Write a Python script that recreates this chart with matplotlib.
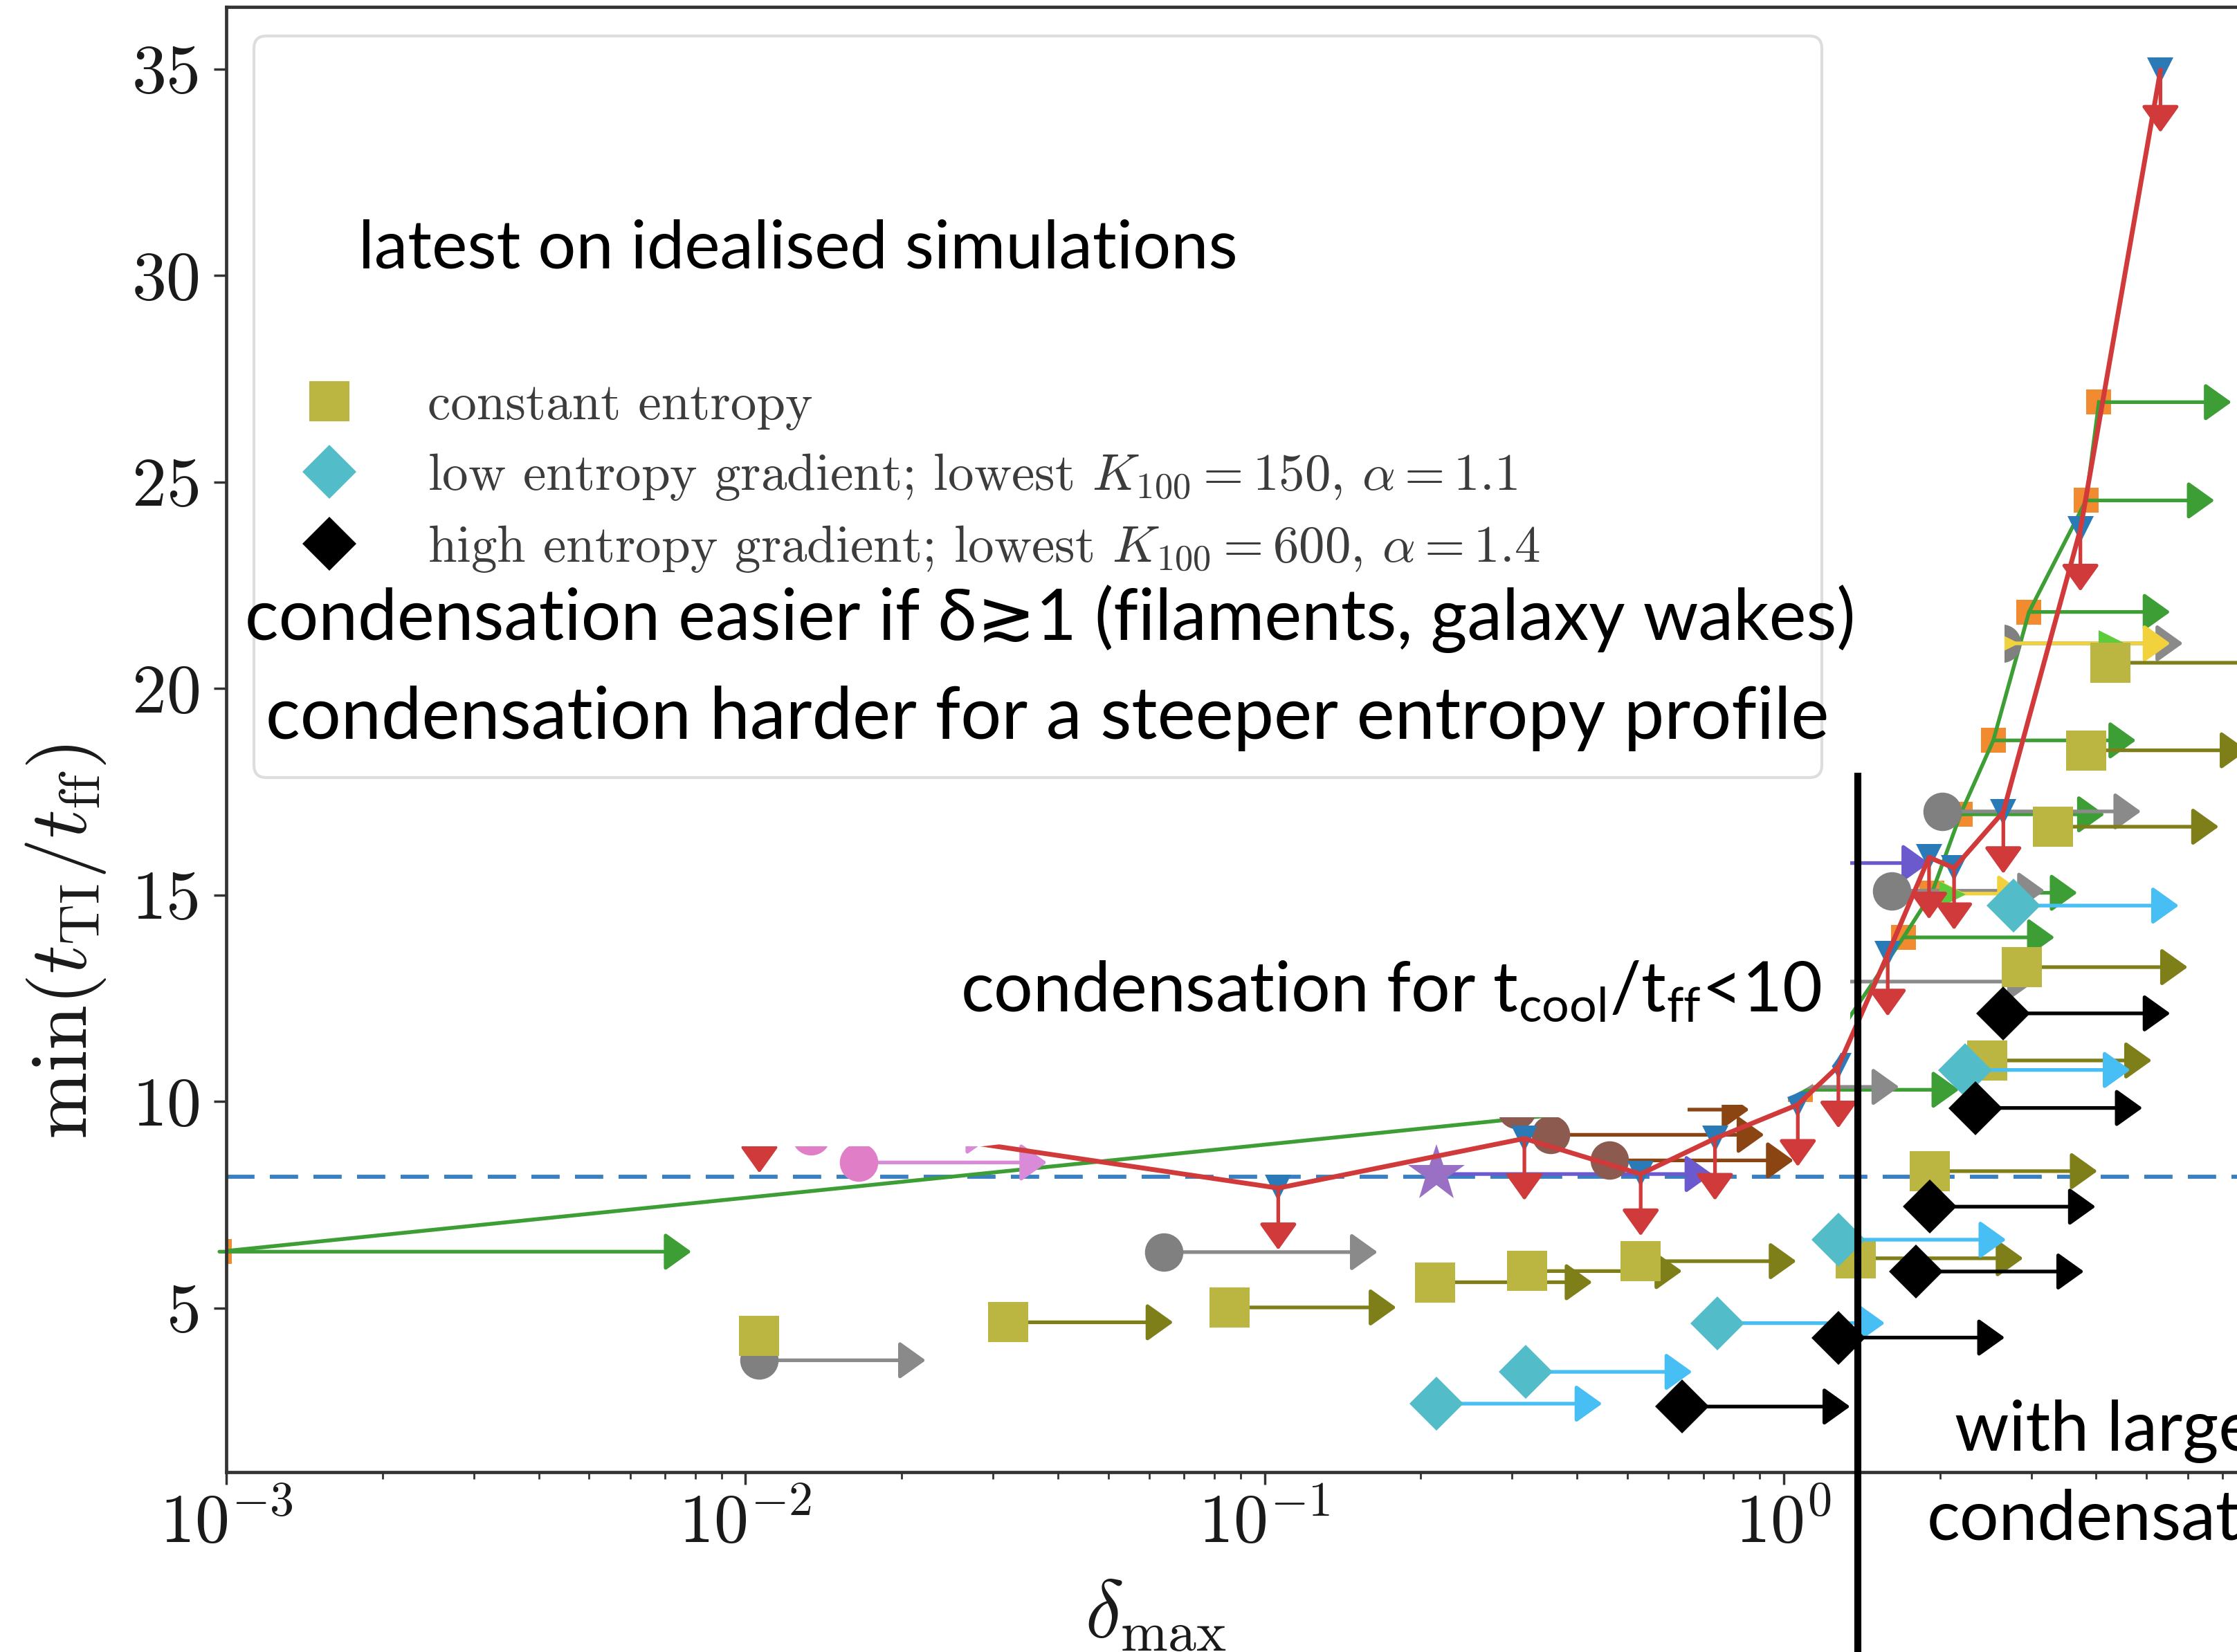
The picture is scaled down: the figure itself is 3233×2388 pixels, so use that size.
import numpy as np
import matplotlib
matplotlib.use("Agg")
import matplotlib.pyplot as plt
from matplotlib.lines import Line2D
from matplotlib.patches import Polygon, FancyBboxPatch
from matplotlib.ticker import FixedLocator, FuncFormatter, LogLocator, NullFormatter
from matplotlib.transforms import Affine2D

plt.rcParams['font.family'] = 'cmr10'
plt.rcParams['mathtext.fontset'] = 'cm'
plt.rcParams['axes.unicode_minus'] = False
plt.rcParams['mathtext.rm'] = 'Lato'

W, H, DPI = 3233, 2388, 100

# orange squares joined by the green line (lower limits on delta)
ang_x = [9.7e-4, 1.078, 1.701, 1.931, 2.191, 2.535, 2.970, 3.825, 4.05]
ang_y = [6.36, 10.28, 13.97, 15.05, 16.95, 18.74, 21.85, 24.55, 26.93]
ang_xend = [0.00787, 2.178, 3.327, 3.68, 4.153, 4.773, 5.557, 6.76, 7.29]

# blue triangles joined by the red line (upper limits on min t_TI/t_ff)
tri_x = [0.01064, 0.1063, 0.3167, 0.5305, 0.7375, 1.065, 1.275, 1.587, 1.906, 2.13, 2.65, 3.73, 5.32]
tri_y = [9.76, 7.90, 9.10, 8.24, 9.10, 9.92, 10.85, 13.56, 15.91, 15.65, 17.01, 23.85, 34.96]
tri_drop = 1.5

gray_x = [0.01064, 0.0640, 0.5305, 0.7285, 1.617, 2.018, 2.633]
gray_y = [3.73, 6.35, 10.35, 12.90, 15.10, 17.02, 21.09]
gray_xend = [0.02225, 0.1651, 1.669, 3.046, 3.184, 4.88, 5.88]

brown_x = [0.306, 0.356, 0.4615]
brown_y = [9.80, 9.19, 8.57]
brown_xend = [0.8586, 0.9175, 1.045]

pink_x = [0.01339, 0.01652]
pink_y = [9.17, 8.52]
pink_xend = [0.030, 0.0381]

star_x = [0.2146, 1.05]
star_y = [8.24, 15.77]
star_xend = [0.7284, 1.906]

yel_x = [2.118, 2.683]
yel_y = [15.03, 21.09]
yel_xend = [2.913, 5.557]

lime_x = [2.118, 4.29]
lime_y = [15.01, 21.09]

const_x = [0.01064, 0.03207, 0.0857, 0.2133, 0.3207, 0.5305, 1.377, 1.913, 2.464, 2.877, 3.307, 3.824, 4.26]
const_y = [4.33, 4.65, 5.01, 5.62, 5.89, 6.13, 6.20, 8.31, 10.99, 13.25, 16.65, 18.50, 20.62]
const_xend = [0.01156, 0.0667, 0.1794, 0.4279, 0.6374, 1.058, 2.895, 4.022, 5.119, 6.004, 6.89, 7.82, 8.6]

lowk_x = [0.2143, 0.3184, 0.745, 1.275, 2.234, 2.77]
lowk_y = [2.68, 3.45, 4.63, 6.65, 10.76, 14.74]
lowk_xend = [0.4472, 0.6665, 1.567, 2.683, 4.655, 5.77]

highk_x = [0.637, 1.275, 1.80, 1.913, 2.343, 2.65]
highk_y = [2.61, 4.28, 5.88, 7.45, 9.84, 12.13]
highk_xend = [1.343, 2.667, 3.789, 3.99, 4.912, 5.557]

threshold = 8.17

legend_labels = [
    'constant entropy',
    r'low entropy gradient; lowest $K_{100} = 150$, $\alpha = 1.1$',
    r'high entropy gradient; lowest $K_{100} = 600$, $\alpha = 1.4$',
]

OLIVE = '#bbb641'
CYAN = '#52bcc8'

fig = plt.figure(figsize=(W / DPI, H / DPI), dpi=DPI)
ax = fig.add_axes([327 / W, 1 - 2128 / H, (3328 - 327) / W, (2128 - 10) / H])
ax.set_xscale('log')
ax.set_xlim(1e-3, 10)
ax.set_ylim(1.022, 36.5)

ARROW = '-|>,head_length=0.42,head_width=0.3'


def arrows(xs, ys, xe, ye, color, z):
    for x0, y0, x1, y1 in zip(xs, ys, xe, ye):
        ax.annotate('', xy=(x1, y1), xytext=(x0, y0),
                    arrowprops=dict(arrowstyle=ARROW, color=color, lw=3.8,
                                    shrinkA=0, shrinkB=0, mutation_scale=56),
                    zorder=z)


def points(xs, ys, marker, color, ms, z):
    ax.plot(xs, ys, ls='none', marker=marker, color=color, ms=ms, mew=0, zorder=z)


ax.axhline(threshold, color='#3a7fc0', lw=4.2, ls=(0, (7.0, 3.8)), zorder=1.5)

# green track
points(ang_x, ang_y, 's', '#f28a30', 26, 2.0)
arrows(ang_x, ang_y, ang_xend, ang_y, '#3d9e35', 2.05)
ax.plot(ang_x, ang_y, color='#3d9e35', lw=4.0, zorder=2.1)

arrows(gray_x, gray_y, gray_xend, gray_y, '#8a8a8a', 2.25)
points(gray_x, gray_y, 'o', '#808080', 40, 2.3)
arrows(brown_x, brown_y, brown_xend, brown_y, '#8b4513', 2.25)
points(brown_x, brown_y, 'o', '#8c5a4e', 40, 2.3)
arrows(pink_x, pink_y, pink_xend, pink_y, '#d98ad8', 2.25)
points(pink_x, pink_y, 'o', '#e07fc8', 40, 2.3)
arrows(star_x, star_y, star_xend, star_y, '#6a5acd', 2.25)
points(star_x, star_y, '*', '#9a70c4', 62, 2.3)

arrows(yel_x, yel_y, yel_xend, yel_y, '#f2d23c', 2.4)
points(yel_x, yel_y, '>', '#f2d23c', 28, 2.42)
points(lime_x, lime_y, '>', '#5ccc3c', 28, 2.45)

arrows(const_x, const_y, const_xend, const_y, '#7f7f1a', 2.55)
points(const_x, const_y, 's', OLIVE, 42, 2.6)
arrows(lowk_x, lowk_y, lowk_xend, lowk_y, '#47bff5', 2.75)
points(lowk_x, lowk_y, 'D', CYAN, 40, 2.8)
arrows(highk_x, highk_y, highk_xend, highk_y, 'black', 2.95)
points(highk_x, highk_y, 'D', 'black', 40, 3.0)

# red track
points(tri_x, tri_y, 'v', '#2a7ab8', 28, 3.2)
ax.plot(tri_x, tri_y, color='#d03a3a', lw=5.0, zorder=3.3)
arrows(tri_x, tri_y, tri_x, [v - tri_drop for v in tri_y], '#d03a3a', 3.3)

# axes styling
for side in ['left', 'bottom', 'top', 'right']:
    ax.spines[side].set_linewidth(3.4)
    ax.spines[side].set_color('#333333')
ax.yaxis.set_major_locator(FixedLocator([5, 10, 15, 20, 25, 30, 35]))
ax.xaxis.set_major_locator(LogLocator(base=10, numticks=10))
ax.xaxis.set_minor_locator(LogLocator(base=10, subs=np.arange(2, 10), numticks=10))
ax.xaxis.set_major_formatter(FuncFormatter(lambda v, p: r'$10^{%d}$' % round(np.log10(v))))
ax.xaxis.set_minor_formatter(NullFormatter())
ax.tick_params(axis='both', which='major', direction='out', length=13, width=2.5,
               color='#333333', labelsize=72, labelcolor='#1a1a1a')
ax.tick_params(axis='y', pad=13)
ax.tick_params(axis='x', pad=8)
ax.tick_params(axis='x', which='minor', direction='out', length=7.5, width=2.0, color='#333333')

ax.set_ylabel(r'$\min(t_{\rm TI}/t_{\rm ff})$', fontsize=84, color='#1a1a1a')
ax.set_xlabel(r'$\delta_{\max}$', fontsize=84, color='#1a1a1a')
ax.yaxis.set_label_coords(-0.057, 0.362)
ax.xaxis.set_label_coords(0.4475, -0.072)

handles = [
    Line2D([], [], ls='none', marker='s', color=OLIVE, ms=42, mew=0),
    Line2D([], [], ls='none', marker='D', color=CYAN, ms=40, mew=0),
    Line2D([], [], ls='none', marker='D', color='black', ms=40, mew=0),
]
ax.legend(handles, legend_labels, loc='upper left', bbox_to_anchor=(401 / W, 1 - 554 / H),
          bbox_transform=fig.transFigure, frameon=False, fontsize=54, labelcolor='#3c3c3c',
          handlelength=2.0, handletextpad=0.9, labelspacing=0.41, borderpad=0, borderaxespad=0)

# slide overlays, in pixels measured from the top-left corner
px = Affine2D().scale(1 / W, -1 / H).translate(0, 1) + fig.transFigure

frame = FancyBboxPatch((367, 52), 2633 - 367, 1124 - 52,
                       boxstyle='round,pad=0,rounding_size=18', transform=px,
                       facecolor='none', edgecolor='#dddddd', lw=3, zorder=4)
fig.add_artist(frame)

t = np.linspace(0, np.pi / 2, 20)
corner = np.column_stack([2521 + 153 * np.cos(t), 1469 + 128 * np.sin(t)])
mask_pts = np.vstack([[[335, 1132], [2674, 1132]], corner,
                      [[2439, 1597], [2439, 1615], [1780, 1615], [1420, 1657], [335, 1657]]])
fig.add_artist(Polygon(mask_pts, closed=True, transform=px, facecolor='white',
                       edgecolor='none', zorder=5))
fig.add_artist(Polygon([[2640, 850], [2897, 850], [2897, 975], [2640, 975]], closed=True,
                       transform=px, facecolor='white', edgecolor='none', zorder=5))

fig.add_artist(Line2D([2685, 2685], [1117, H], transform=px, color='black', lw=7.3,
                      solid_capstyle='butt', zorder=9))

sans = ['Lato', 'DejaVu Sans']
fig.text(518, 388, 'latest on idealised simulations', transform=px, family=sans,
         fontsize=70, va='baseline', ha='left', zorder=10)
fig.text(354, 925, 'condensation easier if δ≳1 (filaments, galaxy wakes)', transform=px,
         family=sans, fontsize=73.3, va='baseline', ha='left', zorder=10)
fig.text(384, 1068, 'condensation harder for a steeper entropy profile', transform=px,
         family=sans, fontsize=75, va='baseline', ha='left', zorder=10)
fig.text(1388, 1462, r'condensation for $\mathrm{t_{cool}/t_{ff}}$<10', transform=px,
         family=sans, fontsize=72, va='baseline', ha='left', zorder=10, math_fontfamily='custom')
fig.text(2825, 2097, 'with larger', transform=px, family=sans, fontsize=72,
         va='baseline', ha='left', zorder=10)
fig.text(2785, 2226, 'condensation', transform=px, family=sans, fontsize=72,
         va='baseline', ha='left', zorder=10)

fig.savefig('out.png', dpi=DPI)
